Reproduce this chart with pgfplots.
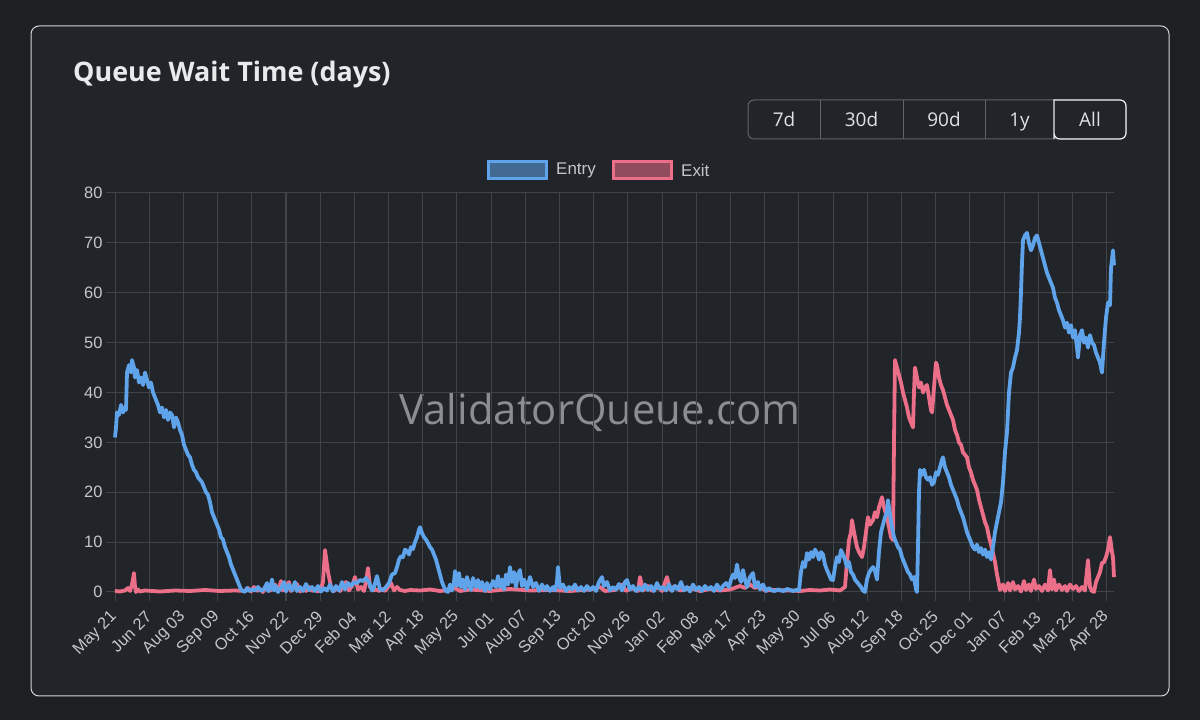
\documentclass[border=0pt]{standalone}
\usepackage{fontspec}
\setmainfont{Liberation Sans}
\newfontfamily\osans{Open Sans}
\usepackage{pgfplots}
\pgfplotsset{compat=1.18}
\definecolor{pagebg}{HTML}{1D1F23}
\definecolor{cardbg}{HTML}{212428}
\definecolor{cardborder}{HTML}{D4D5D7}
\definecolor{gridc}{HTML}{404347}
\definecolor{tickc}{HTML}{C4C6CA}
\definecolor{titlec}{HTML}{E8EAEC}
\definecolor{entryc}{HTML}{5FA4EA}
\definecolor{exitc}{HTML}{EC6F8A}
\definecolor{btnborder}{HTML}{5F646A}
\definecolor{btntext}{HTML}{DEE2E6}
\definecolor{wm}{HTML}{8A8D93}
\begin{document}
\begin{tikzpicture}[x=1bp,y=1bp]
\fill[pagebg] (0,0) rectangle (1200,720);
\draw[cardborder, line width=1bp, fill=cardbg, rounded corners=8bp] (31,24) rectangle (1169,694);
\node[anchor=base west, inner sep=0, text=titlec] at (73,638) {\osans\bfseries\fontsize{27}{32}\selectfont Queue Wait Time (days)};
% buttons
\draw[btnborder, line width=1bp, rounded corners=6bp] (748,581) rectangle (1126,620);
\foreach \xx in {820,903,985} \draw[btnborder, line width=1bp] (\xx,581) -- (\xx,620);
\draw[titlec, line width=1.2bp] (1054,581) -- (1054,620) [rounded corners=6bp] -- (1126,620) -- (1126,581) -- (1054,581) [sharp corners] -- cycle;
\foreach \xx/\tt in {784/7d, 861.5/30d, 944/90d, 1019.5/1y, 1090/All}
  \node[anchor=base, inner sep=0, text=btntext, font=\osans\fontsize{19}{22}\selectfont] at (\xx,593) {\tt};
% legend
\draw[entryc, line width=3bp, fill=entryc!55!cardbg] (488.5,541.5) rectangle (546.5,558.5);
\node[anchor=west, text=tickc, font=\fontsize{17}{20}\selectfont, inner sep=0] at (556,550) {Entry};
\draw[exitc, line width=3bp, fill=exitc!55!cardbg] (613.5,541.5) rectangle (671.5,558.5);
\node[anchor=west, text=tickc, font=\fontsize{17}{20}\selectfont, inner sep=0] at (681,550) {Exit};
% watermark
\node[text=wm, font=\osans\fontsize{42}{50}\selectfont] at (600,308) {ValidatorQueue.com};
\begin{axis}[
  at={(115bp,128bp)}, anchor=south west,
  scale only axis, width=999bp, height=399bp,
  xmin=0, xmax=999, ymin=0, ymax=80,
  ytick={0,10,...,80},
  xtick={0,34.2,68.4,102.6,136.8,171,205.2,239.4,273.6,307.8,342,376.2,410.4,444.6,478.8,513,547.2,581.4,615.6,649.8,684,718.2,752.4,786.6,820.8,855,889.2,923.4,957.6,991.8},
  xticklabels={May 21,Jun 27,Aug 03,Sep 09,Oct 16,Nov 22,Dec 29,Feb 04,Mar 12,Apr 18,May 25,Jul 01,Aug 07,Sep 13,Oct 20,Nov 26,Jan 02,Feb 08,Mar 17,Apr 23,May 30,Jul 06,Aug 12,Sep 18,Oct 25,Dec 01,Jan 07,Feb 13,Mar 22,Apr 28},
  axis x line*=bottom, axis y line*=left,
  axis line style={draw=none},
  grid=major, grid style={gridc, line width=1bp},
  tick style={gridc, line width=1bp}, tick align=outside, major tick length=9bp,
  ticklabel style={text=tickc, font=\fontsize{16.5}{19}\selectfont},
  /pgf/number format/assume math mode=true,
  xticklabel style={xshift=1.8bp, yshift=-11bp, rotate=45, anchor=east},
  clip=false,
]
\addplot[exitc, line width=3.8bp, line join=round] coordinates {
(0,0.2)(5,0.1)(10,0.3)(13,0.8)(15,0.2)(17,1.5)(19,3.8)(20,1)(21,0)(23,0.5)(25,0.1)(30,0.3)(45,0.1)(60,0.3)(75,0.2)(90,0.4)(105,0.2)(120,0.3)(130,0.2)
(133,0.8)(136,0.1)(139,1)(142,0.2)(145,0.6)(148,0)(151,1.2)(154,0.2)(157,0.5)(160,1.5)(163,0.1)(166,2.2)(168,0.3)(171,1)(174,2)(176,0.2)(179,0.8)
(182,1.6)(185,0.1)(188,0.7)(191,0.2)(194,1)(197,0.2)(200,0.5)(203,0.1)(206,0.6)(208,2)(210,8.4)(213,4)(216,1)(219,0.2)(222,0.8)(225,0.2)(228,1)
(231,2)(234,0.3)(237,1.2)(240,3)(243,0.5)(246,1)(249,0.2)(251,2)(253,4.8)(255,1)(258,0.3)(261,0.5)(264,0.2)(267,0.6)(270,0.2)(273,1)(276,1.8)
(279,0.3)(282,1)(285,0.4)(290,0.2)(295,0.4)(305,0.3)(315,0.5)(325,0.2)(335,0.4)(340,0.8)(345,0.2)(355,0.5)(375,0.2)(395,0.6)(415,0.3)(435,0.4)
(455,0.2)(475,0.5)(485,1)(490,0.2)(500,0.4)(507,1.5)(511,0.2)(517,0.8)(523,0.2)(525,3)(528,0.3)(533,1.2)(537,0.2)(543,1)(547,0.2)(552,3)(555,0.5)
(560,1.2)(565,0.3)(575,0.8)(585,0.2)(595,0.6)(605,0.3)(615,0.5)(625,1.2)(630,0.8)(635,1.5)(640,0.8)(645,1.2)(650,0.3)(660,0.4)(675,0.3)(685,0.2)
(695,0.4)(705,0.3)(715,0.5)(725,0.3)(730,1)(732,6)(734,10.4)(736,12)(737,14.4)(739,12)(741,10)(742,9)(744,8)(747,7)(749,9)(751,12)(753,15)
(755,13.5)(758,14.4)(760,16)(762,15)(764,17)(767,19)(769,17)(772,15)(774,13)(776,11)(778,10.4)(779,30)(780,46.5)(782,45)(784,43.5)(786,42)
(788,40)(790,38.5)(792,37)(794,35)(796,34)(798,33)(799,40)(800,45)(802,43)(804,41)(806,42)(808,40)(810,41)(812,41.5)(814,39)(816,36.5)(817,36)
(819,41)(821,46)(822,45.5)(824,43)(826,41.5)(828,40.5)(830,39)(832,37.5)(834,36.5)(836,35.5)(838,34.5)(840,32.5)(842,31.5)(844,30)(846,29.5)
(848,28)(850,27.5)(852,27)(854,25)(856,24)(858,22.5)(860,21.5)(862,20.5)(864,18.5)(866,17)(868,15.5)(870,14)(872,13)(874,11)(876,9.5)(878,7.8)
(880,6)(882,3.5)(884,1.5)(885,0.4)(888,1.5)(890,0.2)(893,1.8)(895,0.3)(898,2)(900,0.5)(903,1.2)(906,0.1)(909,2.2)(911,0.4)(914,1.5)(916,0.2)
(919,2.5)(921,0.6)(924,1.2)(927,0.2)(930,1.5)(933,0.3)(935,4.4)(937,0.5)(939,2.5)(941,0.3)(944,1.5)(947,0.4)(950,1.2)(952,0.2)(955,1.5)(958,0.6)
(961,1.2)(964,0.2)(967,1)(970,0.3)(973,6.4)(975,1)(977,0.2)(979,0)(981,2)(983,3)(985,4)(987,5.8)(989,6)(991,7)(993,8.5)(995,11)(997,8)(998,7)(999,3)
};
\addplot[entryc, line width=3.8bp, line join=round] coordinates {
(0,31)(1,33)(2,36)(4,35.5)(6,37.5)(8,36)(10,37)(11,36.5)(12,44)(14,45.5)(16,44)(17,46.5)(19,45)(20,43)(22,44.5)(24,42)(26,43)(28,41.5)(30,44)
(32,42.5)(34,41)(36,42)(38,40)(41,38.5)(43,37.5)(45,36)(47,37)(49,35)(51,36.5)(53,34.5)(55,36)(57,35.5)(59,33)(61,35)(63,34)(65,32.5)(67,31.5)
(69,29.5)(71,28.5)(73,27.5)(75,27)(77,25.5)(79,24.5)(81,24)(83,23)(85,22.5)(87,22)(89,21)(91,20)(93,19.5)(95,18)(97,16)(99,15)(102,13.5)(104,12.5)
(106,11)(108,10.5)(110,9)(112,8)(114,7)(116,5.5)(118,4.5)(120,3.5)(122,2.5)(124,1.5)(126,0.5)(128,0.2)(130,0)(132,0.8)(134,0.2)(137,0.5)(140,0.3)
(143,1)(146,0.2)(149,0.6)(152,1.8)(153,0.2)(155,0.5)(157,2.5)(159,0.3)(161,1.2)(163,0)(166,0.8)(169,2)(171,0.1)(174,1.5)(177,0.3)(180,2)(182,0.2)
(185,1)(188,0.2)(191,1.6)(194,0.4)(197,1)(200,0.2)(203,1.2)(206,0.1)(209,0.8)(212,0.3)(215,1.5)(218,0.1)(221,1.2)(224,0.3)(227,2)(230,0.5)(233,1.8)
(236,1.2)(239,2)(242,1.8)(245,2.4)(248,2.2)(251,2.8)(254,2)(257,0.3)(259,1)(262,3.2)(265,0.5)(268,0.4)(271,1)(274,1.8)(277,3.5)(280,3.8)(282,5)
(284,6.5)(286,7.2)(288,7)(290,8.5)(292,8.2)(294,7.5)(296,9)(298,8.6)(300,10)(302,11)(304,12.5)(305,13)(307,11.8)(309,11)(311,10.5)(313,9.8)(315,9)
(317,8.5)(319,7.5)(321,6.5)(323,5)(325,3.5)(327,2)(329,1)(331,0.2)(333,0)(335,1.5)(337,0.3)(339,2)(340,4.2)(342,1.2)(344,3.8)(346,1)(348,2.5)
(350,0.5)(352,3)(354,1.5)(356,0.4)(358,2.8)(361,1)(363,2.4)(365,0.8)(367,2)(370,0.2)(372,1.8)(375,0.5)(378,2.2)(381,1)(383,3.2)(385,1)(387,2.5)
(389,0.5)(391,3.5)(393,1.5)(395,5)(397,2)(399,4)(401,1)(403,3.5)(405,4.4)(407,1.2)(409,2.5)(412,0.6)(415,3)(418,1)(421,1.8)(424,0.2)(427,1.5)
(430,0.4)(432,1.2)(435,0.2)(438,1)(440,0.3)(442,2)(443,5)(445,0.8)(448,1.5)(451,0.2)(454,1)(457,0.5)(460,1.5)(463,0.3)(466,1)(469,0.2)(472,1.2)
(475,0.4)(478,1)(481,0.2)(484,2)(487,3)(489,1.2)(492,2)(495,0.3)(498,1)(501,0.5)(504,1.6)(507,0.3)(510,2)(512,2.4)(515,0.5)(518,1.2)(521,0.2)
(524,1)(527,0.3)(530,1.5)(533,0.4)(536,1.2)(539,0.2)(542,1.8)(545,0.6)(548,1)(551,0.3)(554,1.5)(557,0.2)(560,1.2)(563,0.5)(566,2)(569,0.3)(572,1)
(575,0.1)(578,1.5)(581,0.4)(584,1)(587,0.2)(590,1.2)(593,0.5)(596,1)(599,0.2)(602,1.5)(605,0.4)(608,1.2)(611,1.8)(614,1)(616,2.5)(618,3.5)(620,2.8)
(622,5.5)(624,3)(626,2)(628,4.4)(630,2.5)(632,1)(635,3)(638,3.8)(640,1)(643,2)(645,0.5)(648,1.5)(651,0.2)(654,0.8)(657,0.3)(660,0.2)(663,0.5)
(666,0.3)(669,0.2)(672,0.6)(675,0.4)(678,0.2)(681,0.4)(684,0.3)(686,4)(688,6)(690,5)(692,7.8)(694,6.5)(696,8)(698,7)(700,8.5)(702,7.8)(704,6.5)
(706,8)(708,7.5)(710,5.5)(712,4.4)(714,3.5)(716,2.5)(718,2.4)(720,5)(722,7)(724,6)(726,8.4)(728,7.5)(730,6.5)(732,5)(734,6)(736,4)(738,3.5)
(740,2.5)(742,2)(744,1.5)(746,1)(748,0.3)(750,0)(752,2.5)(754,3.8)(756,4.5)(758,5)(760,4.2)(762,2.5)(764,8)(766,12)(768,13.5)(770,15)(772,16)
(773,18.4)(775,15.5)(777,13)(779,11)(781,10)(783,9)(785,8.5)(787,7)(789,6)(791,5)(793,4)(795,3.5)(797,2.5)(799,3)(801,0.5)(802,0)(803,9)(804,20)
(805,24.5)(807,23.5)(809,24.5)(811,23)(813,22.5)(815,23)(817,21.5)(819,22)(821,24)(823,23.5)(825,25)(827,26.5)(828,27)(830,25)(832,24)(834,23)
(836,21.5)(838,20.5)(840,19.5)(842,18.5)(844,17)(846,16)(848,15)(850,13.5)(852,12)(854,11)(856,10)(858,9)(860,8.5)(862,9.5)(864,8)(866,8.8)
(868,7.5)(870,8.5)(872,7)(874,8)(876,6.5)(878,9)(880,12)(882,14)(884,16)(886,18)(888,22)(890,28)(892,32)(894,40)(896,44)(898,45)(900,47)(902,48.5)
(904,52)(905,55)(906,60)(907,66)(908,70.5)(910,71.5)(912,72)(914,70)(916,68.5)(918,69.5)(920,71)(922,71.5)(924,70)(926,68.5)(928,67)(930,65.5)
(932,64)(934,63)(936,62)(938,61)(940,59)(942,58)(944,56.5)(946,55.5)(948,54.5)(950,53)(952,54)(954,52)(956,53.5)(958,51)(960,52.5)(962,49)(963,47)
(965,51.5)(967,52.5)(969,50)(971,51)(973,49)(975,51.5)(977,50)(979,49.5)(981,48)(983,47)(985,46)(987,44)(989,50)(991,55)(993,58)(995,57.5)(996,65)
(997,66.5)(998,68.5)(999,65.5)
};
\end{axis}
\pgfresetboundingbox
\useasboundingbox (0,0) rectangle (1200,720);
\end{tikzpicture}
\end{document}
